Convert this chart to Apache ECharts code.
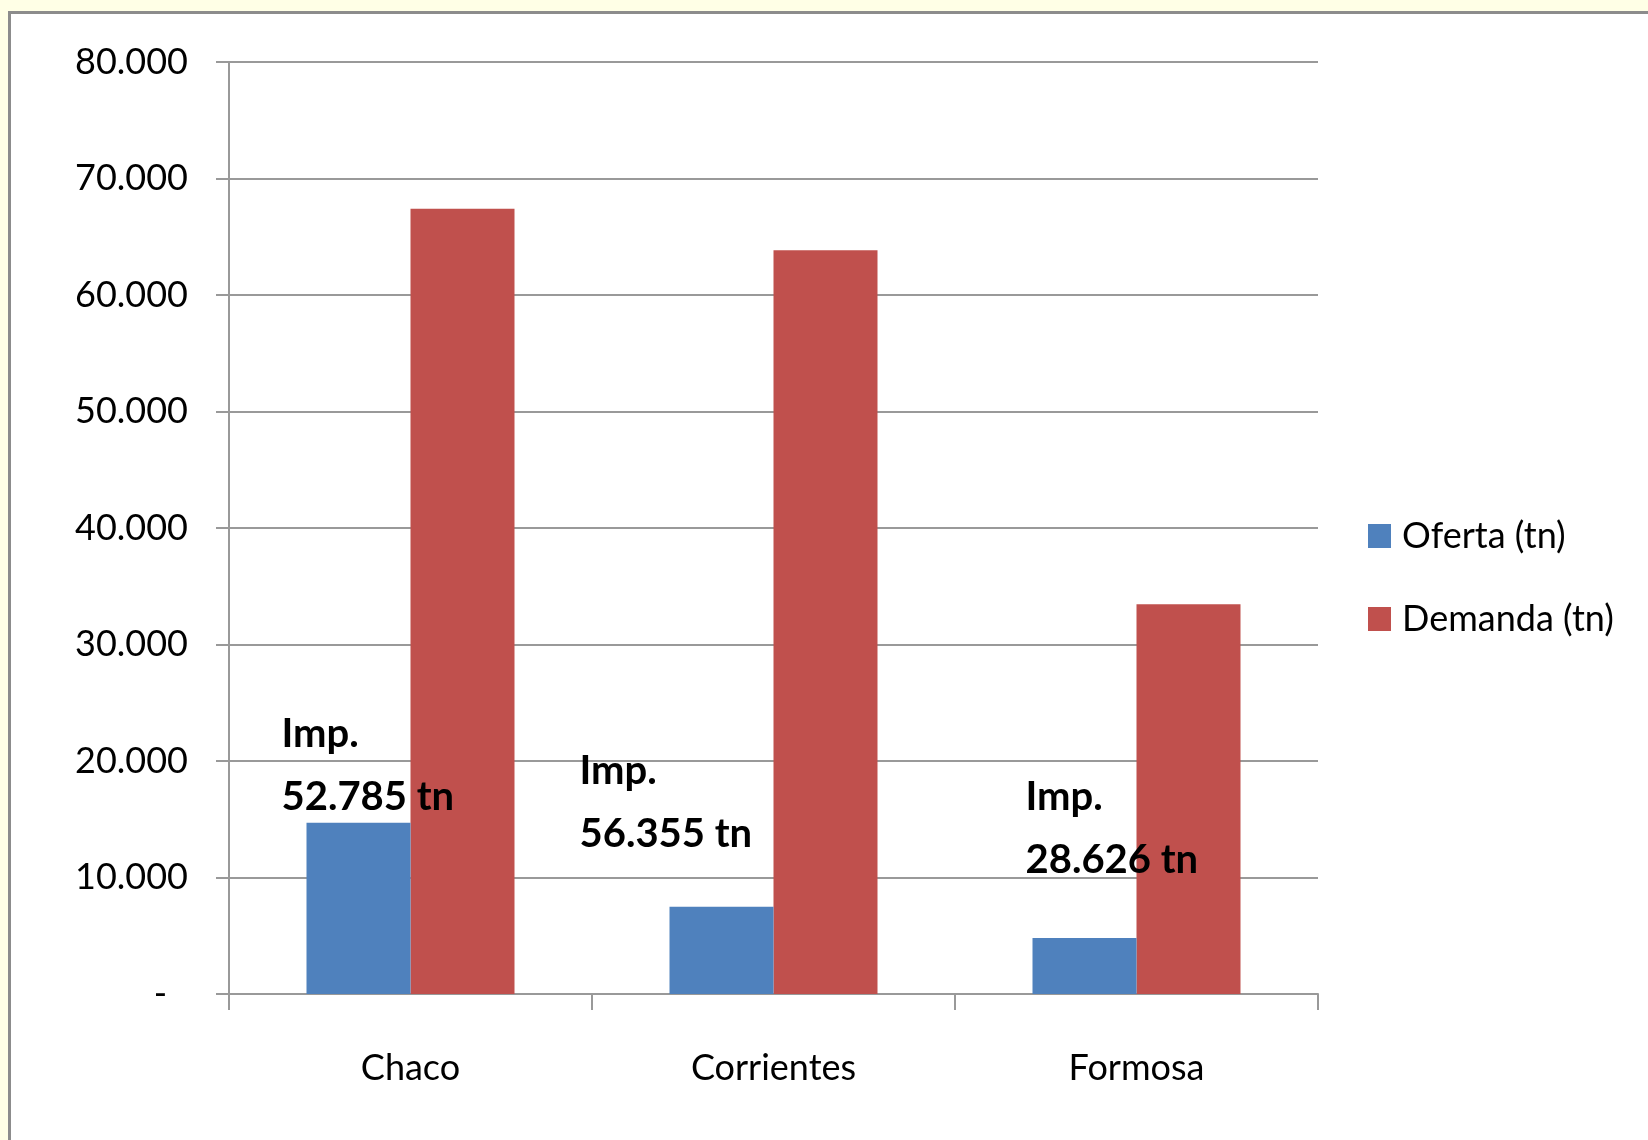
<!DOCTYPE html>
<html>
<head>
<meta charset="utf-8">
<title>Oferta y Demanda</title>
<script src="https://cdn.jsdelivr.net/npm/echarts/dist/echarts.min.js"></script>
<style>
  body { margin: 0; background: #ffffe6; }
  .frame {
    position: absolute; left: 8px; top: 11px; right: 0; bottom: 0;
    background: #fff;
    border-left: 3px solid #8c8c8c;
    border-top: 3px solid #8c8c8c;
  }
  #chart { position: absolute; left: 0; top: 0; width: 1648px; height: 1140px; }
</style>
</head>
<body>
<div class="frame"></div>
<div id="chart"></div>
<script>
const provincias = ['Chaco', 'Corrientes', 'Formosa']
const oferta = [14700, 7495, 4800]
const demanda = [67400, 63850, 33450]
const importaciones = [52785, 56355, 28626]
const yTicks = [0, 80000, 10000] // min, max, interval

const FONT = "Lato, 'Liberation Sans', sans-serif"
// posicion de cada rotulo "Imp." respecto a la esquina de su barra azul
const labelPos = [[-25, -120], [-90, -167], [-7, -172]]

function miles(v) {
  return String(v).replace(/\B(?=(\d{3})+(?!\d))/g, '.')
}

let myChart = echarts.init(document.getElementById('chart'))
myChart.setOption({
  animation: false,
  textStyle: { fontFamily: FONT },
  grid: { left: 229, right: 330, top: 62, bottom: 146 },
  legend: {
    orient: 'vertical',
    left: 1368,
    top: 515,
    padding: 0,
    itemWidth: 23,
    itemHeight: 24,
    itemGap: 41,
    icon: 'rect',
    textStyle: { fontFamily: FONT, fontSize: 36, lineHeight: 42, color: '#000', padding: [0, 0, 0, 6] },
    data: ['Oferta (tn)', 'Demanda (tn)']
  },
  xAxis: {
    type: 'category',
    data: provincias,
    axisLine: { lineStyle: { color: '#999', width: 2 } },
    axisTick: { show: true, length: 16, lineStyle: { color: '#999', width: 2 } },
    axisLabel: { fontFamily: FONT, fontSize: 36, color: '#000', margin: 56 }
  },
  yAxis: {
    type: 'value',
    min: yTicks[0],
    max: yTicks[1],
    interval: yTicks[2],
    axisLine: { show: true, lineStyle: { color: '#999', width: 2 } },
    axisTick: { show: true, length: 13, lineStyle: { color: '#999', width: 2 } },
    splitLine: { lineStyle: { color: '#999', width: 2 } },
    axisLabel: {
      fontFamily: FONT,
      fontSize: 36,
      color: '#000',
      margin: 41,
      formatter: v => v === 0 ? '{z|-}' : miles(v),
      rich: { z: { fontFamily: FONT, fontSize: 36, color: '#000', padding: [0, 21, 0, 0] } }
    }
  },
  series: [
    {
      name: 'Oferta (tn)',
      type: 'bar',
      z: 3,
      barWidth: 104,
      barGap: '0%',
      itemStyle: { color: '#4f81bd' },
      data: oferta.map((v, i) => ({
        value: v,
        label: {
          show: true,
          position: labelPos[i],
          align: 'left',
          verticalAlign: 'top',
          fontFamily: FONT,
          fontSize: 40,
          fontWeight: 'bold',
          lineHeight: 63,
          color: '#000',
          formatter: 'Imp.\n' + miles(importaciones[i]) + ' tn'
        }
      }))
    },
    {
      name: 'Demanda (tn)',
      type: 'bar',
      barWidth: 104,
      barGap: '0%',
      itemStyle: { color: '#c0504d' },
      data: demanda
    }
  ]
})
</script>
</body>
</html>
